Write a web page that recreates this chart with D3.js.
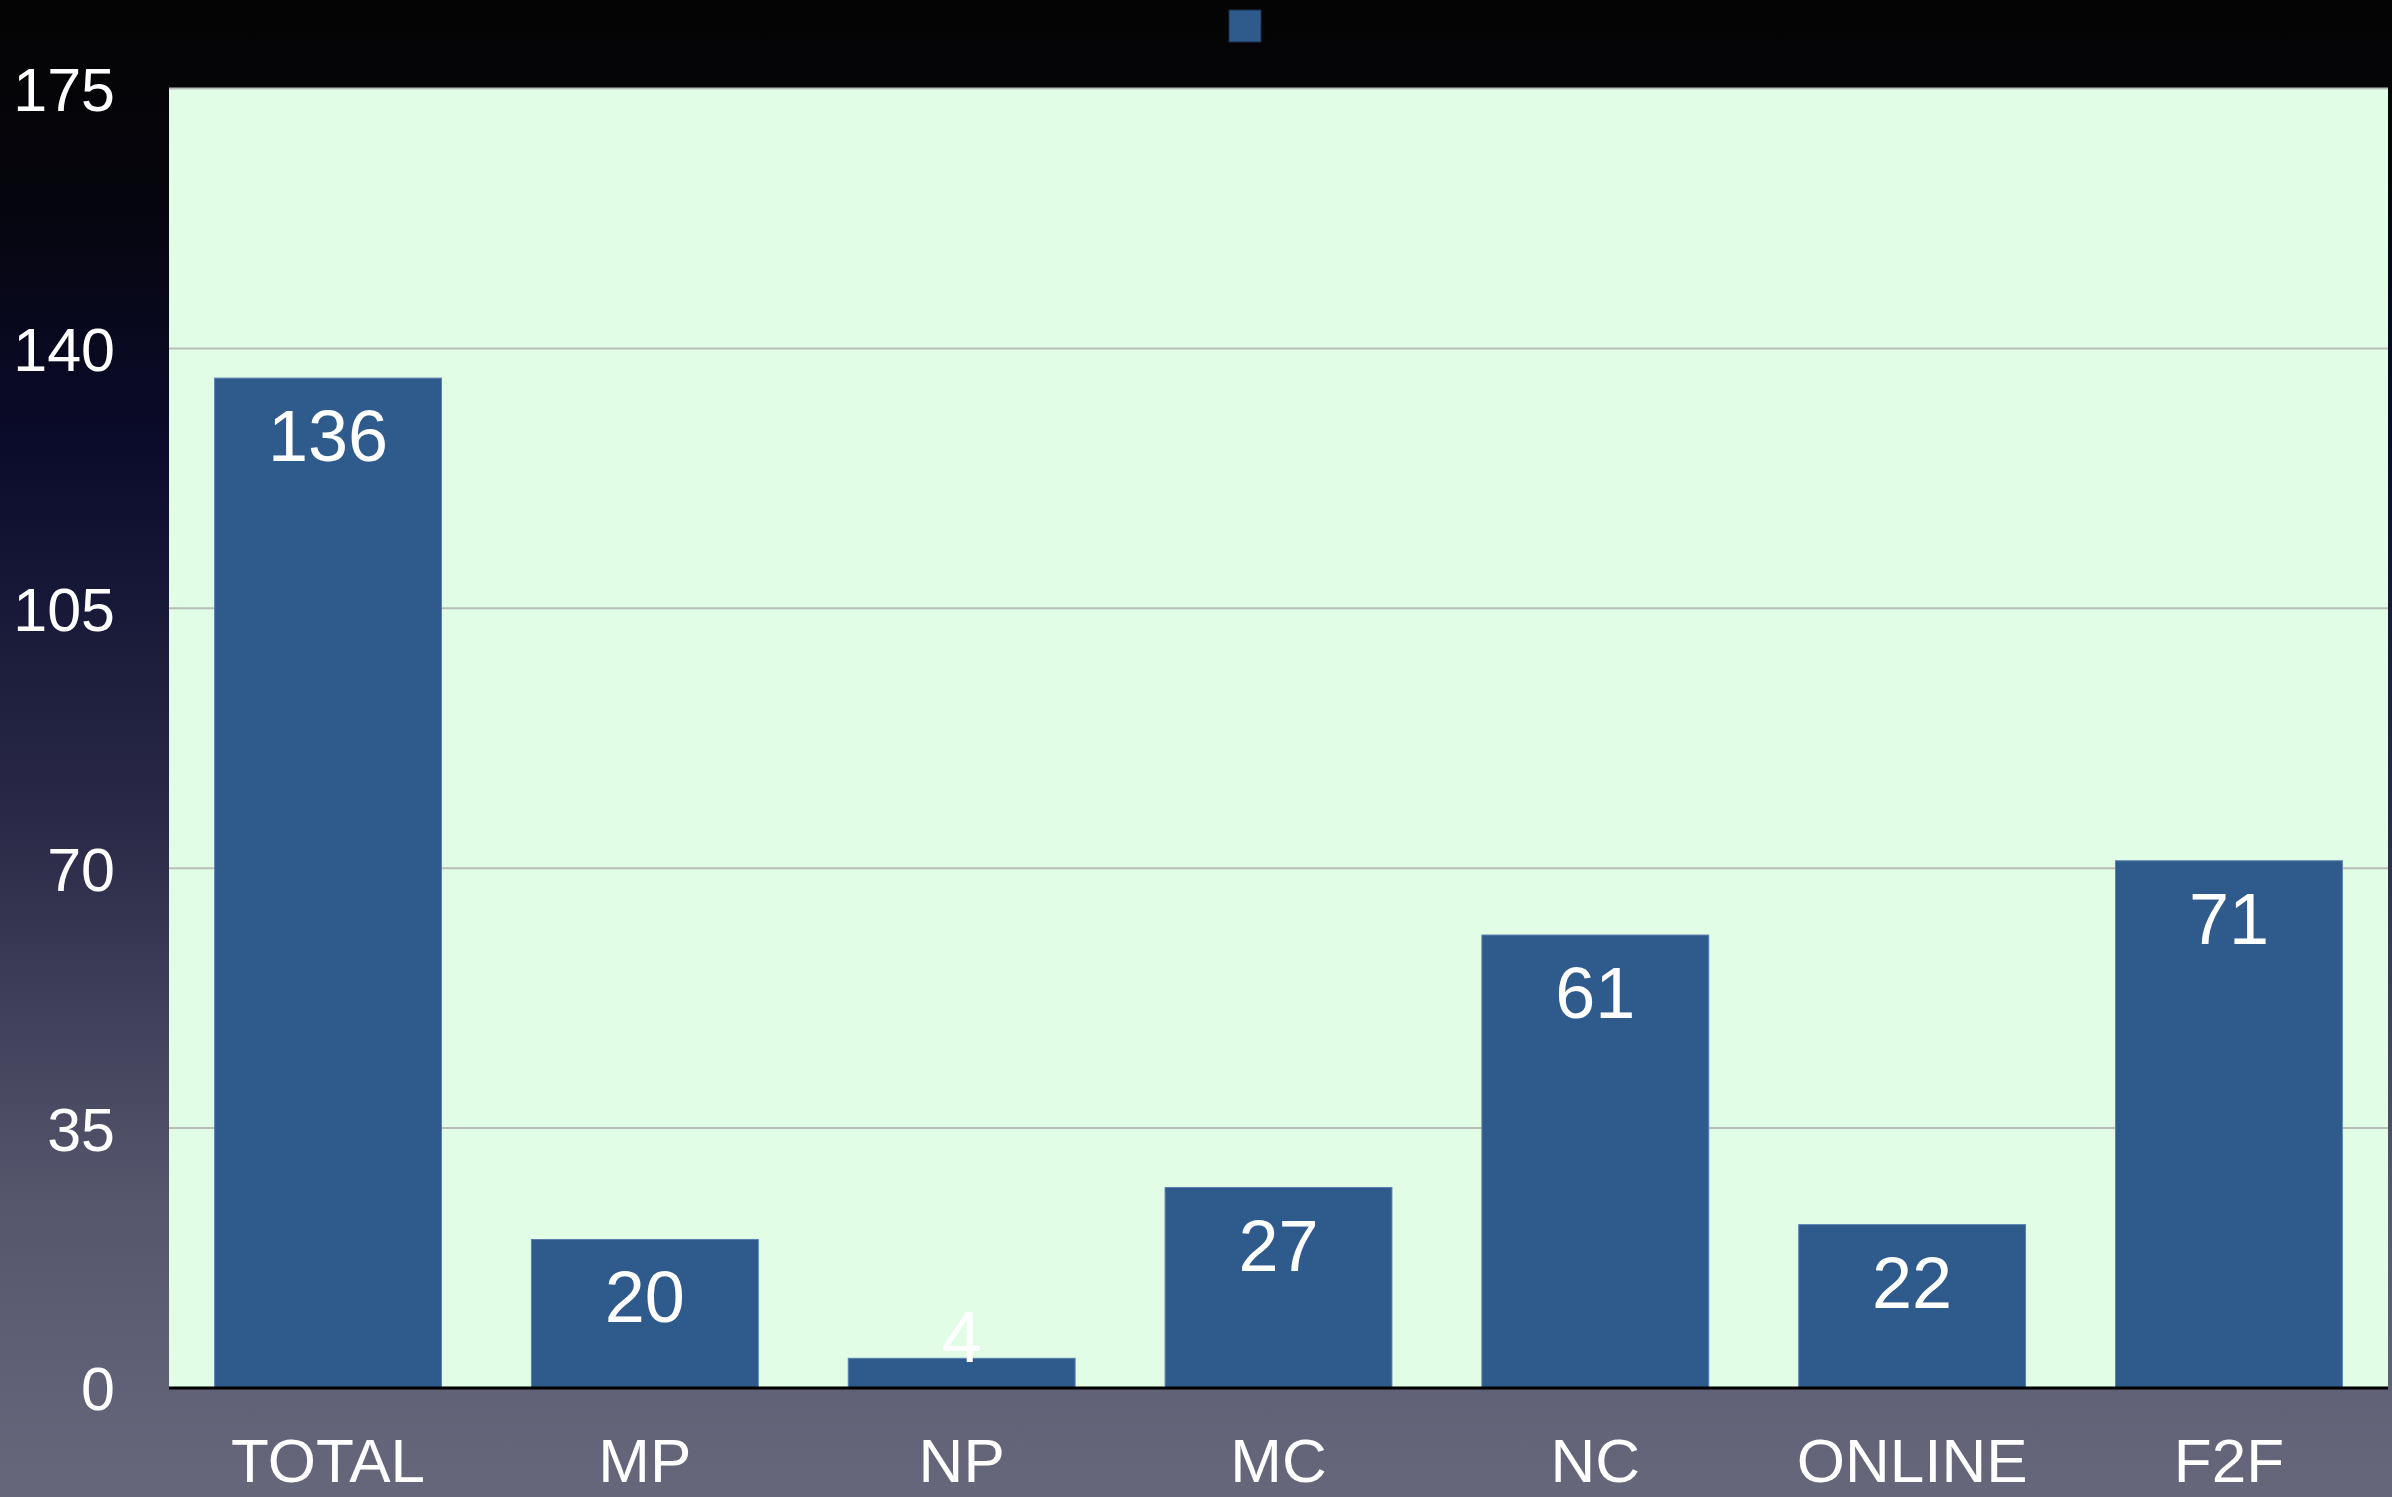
<!DOCTYPE html>
<html>
<head>
<meta charset="utf-8">
<script src="https://cdn.jsdelivr.net/npm/d3@7"></script>
<style>
html,body{margin:0;padding:0;background:#000;}
svg{display:block;}
text{font-family:"Liberation Sans",Arial,Helvetica,sans-serif;fill:#fff;}
</style>
</head>
<body>
<svg id="chart" width="2392" height="1497"></svg>
<script>
const categories = ["TOTAL","MP","NP","MC","NC","ONLINE","F2F"];
const values = [136,20,4,27,61,22,71];
const yTicks = [0,35,70,105,140,175];

const W = 2392, H = 1497;
const m = {left:169, right:2388, top:88.5, bottom:1388};
const svg = d3.select("#chart");

const defs = svg.append("defs");
const g = defs.append("linearGradient").attr("id","bg").attr("x1",0).attr("y1",0).attr("x2",0).attr("y2",1);
[[0,"#040404"],[0.12,"#05050c"],[0.3,"#0b0b2c"],[0.55,"#2a2a48"],[0.8,"#55556c"],[1,"#67677c"]]
  .forEach(([o,c])=>g.append("stop").attr("offset",o).attr("stop-color",c));
svg.append("rect").attr("width",W).attr("height",H).attr("fill","url(#bg)");

const x = d3.scaleBand().domain(categories).range([m.left,m.right]).paddingInner(0.284).paddingOuter(0.144);
const y = d3.scaleLinear().domain([0,175]).range([m.bottom,m.top]);

// plot background
svg.append("rect").attr("x",m.left).attr("y",m.top).attr("width",m.right-m.left).attr("height",m.bottom-m.top).attr("fill","#e1fde6");

// gridlines
svg.append("g").selectAll("line").data(yTicks.filter(d=>d>0)).join("line")
  .attr("x1",m.left).attr("x2",m.right)
  .attr("y1",d=>y(d)).attr("y2",d=>y(d))
  .attr("stroke","#b9bdb9").attr("stroke-width",2);

// bars
svg.append("g").selectAll("rect").data(values).join("rect")
  .attr("x",(d,i)=>x(categories[i]))
  .attr("width",x.bandwidth())
  .attr("y",d=>y(d))
  .attr("height",d=>y(0)-y(d))
  .attr("fill","#2e5a8c")
  .attr("stroke","#5a7fb0").attr("stroke-width",1);

// baseline axis
svg.append("line").attr("x1",m.left).attr("x2",m.right).attr("y1",y(0)).attr("y2",y(0))
  .attr("stroke","#000").attr("stroke-width",3);

// value labels
svg.append("g").selectAll("text").data(values).join("text")
  .attr("x",(d,i)=>x(categories[i])+x.bandwidth()/2)
  .attr("y",d=>Math.min(y(d)+83, y(0)-26))
  .attr("text-anchor","middle")
  .attr("font-size",72)
  .text(d=>d);

// y axis labels
const yAxis = d3.axisLeft(y).tickValues(yTicks).tickSize(0).tickPadding(0);
const ya = svg.append("g").attr("transform",`translate(115,0)`).call(yAxis);
ya.select(".domain").remove();
ya.selectAll("text").attr("font-size",61).attr("fill","#fff").attr("dy","0.36em")
  .style("font-family","'Liberation Sans',Arial,sans-serif");

// x axis labels
const xAxis = d3.axisBottom(x).tickSize(0).tickPadding(0);
const xa = svg.append("g").attr("transform",`translate(0,1482)`).call(xAxis);
xa.select(".domain").remove();
xa.selectAll("text").attr("font-size",62).attr("fill","#fff").attr("dy",0).attr("y",0)
  .style("font-family","'Liberation Sans',Arial,sans-serif");

// legend marker
svg.append("rect").attr("x",1229).attr("y",10).attr("width",32).attr("height",32)
  .attr("fill","#2e5a8c").attr("stroke","#1a2f4a").attr("stroke-width",1);
</script>
</body>
</html>
